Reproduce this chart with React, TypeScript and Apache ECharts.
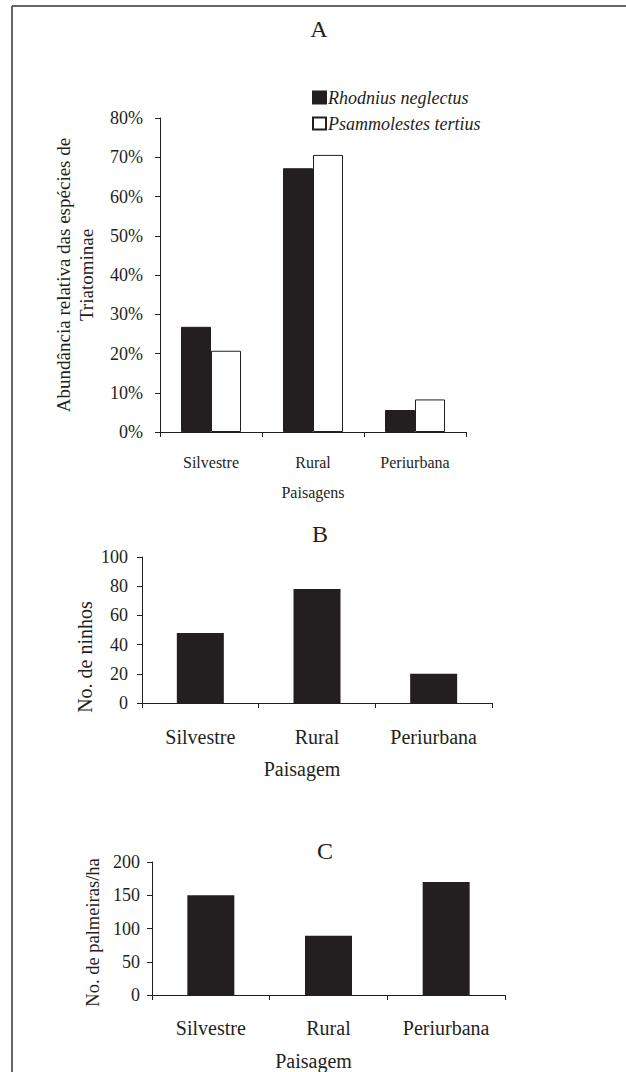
import React, { useEffect, useRef } from "react";
import * as echarts from "echarts";

const paisagens = ["Silvestre", "Rural", "Periurbana"];
const rhodnius = [26.8, 67.2, 5.6];
const psammolestes = [20.7, 70.6, 8.3];
const ninhos = [48, 78, 20];
const palmeiras = [150, 89, 170];
const panelTitles = ["A", "B", "C"];

const INK = "#231f20";
const FONT = "Liberation Serif";

function yAxisBase(gridIndex: number, max: number, interval: number, name: string, nameGap: number, fontSize: number, labelMargin: number, extra: any = {}) {
  return {
    type: "value",
    gridIndex,
    min: 0,
    max,
    interval,
    name,
    nameLocation: "middle",
    nameGap,
    nameRotate: 90,
    nameMoveOverlap: false,
    nameTextStyle: { color: INK, fontFamily: FONT, fontSize: 17, lineHeight: 22, ...(extra.nameTextStyle || {}) },
    axisLine: { show: true, lineStyle: { color: INK, width: 1 } },
    axisTick: { show: true, length: 5, lineStyle: { color: INK } },
    axisLabel: { color: INK, fontFamily: FONT, fontSize, margin: labelMargin, ...(extra.axisLabel || {}) },
    splitLine: { show: false },
  };
}

function xAxisBase(gridIndex: number, name: string, nameGap: number, fontSize: number, labelMargin: number, namePadding: number[]) {
  return {
    type: "category",
    gridIndex,
    data: paisagens,
    name,
    nameLocation: "middle",
    nameGap,
    nameMoveOverlap: false,
    nameTextStyle: { color: INK, fontFamily: FONT, fontSize: fontSize, padding: namePadding },
    axisLine: { show: true, lineStyle: { color: INK, width: 1 } },
    axisTick: { show: true, length: 5, lineStyle: { color: INK } },
    axisLabel: { color: INK, fontFamily: FONT, fontSize, margin: labelMargin },
    splitLine: { show: false },
  };
}

export default function App() {
  const ref = useRef<HTMLDivElement>(null);
  useEffect(() => {
    if (!ref.current) return;
    const chart = echarts.init(ref.current, undefined, { renderer: "svg" });
    const titleStyle = { color: INK, fontFamily: FONT, fontSize: 24, fontWeight: "normal" };
    const option: any = {
      animation: false,
      backgroundColor: "#ffffff",
      title: [
        { text: panelTitles[0], left: 314, top: 12, textAlign: "center", textStyle: titleStyle },
        { text: panelTitles[1], left: 315, top: 517, textAlign: "center", textStyle: titleStyle },
        { text: panelTitles[2], left: 320, top: 834, textAlign: "center", textStyle: titleStyle },
      ],
      legend: {
        left: 307,
        top: 82,
        orient: "vertical",
        icon: "rect",
        itemWidth: 13,
        itemHeight: 12,
        itemGap: 5,
        data: ["Rhodnius neglectus", "Psammolestes tertius"],
        textStyle: { color: INK, fontFamily: FONT, fontSize: 18, fontStyle: "italic", lineHeight: 21, padding: [0, 0, 0, -3] },
      },
      grid: [
        { left: 160, top: 118, width: 306, height: 314 },
        { left: 142, top: 557, width: 350, height: 146 },
        { left: 152, top: 862, width: 353, height: 136 },
      ],
      xAxis: [
        xAxisBase(0, "Paisagens", 52, 16, 22, [0, 0, 0, 0]),
        xAxisBase(1, "Paisagem", 56, 20, 24, [0, 30, 0, 0]),
        xAxisBase(2, "Paisagem", 56, 20, 23, [0, 30, 0, 0]),
      ],
      yAxis: [
        { ...yAxisBase(0, 80, 10, "Abundância relativa das espécies de\nTriatominae", 62, 18, 17, { nameTextStyle: { fontSize: 19, lineHeight: 23 } }), axisLabel: { color: INK, fontFamily: FONT, fontSize: 18, margin: 17, formatter: "{value}%" } },
        yAxisBase(1, 100, 20, "No. de ninhos", 46, 18, 14, { nameTextStyle: { fontSize: 20, padding: [0, 54, 0, 0] } }),
        yAxisBase(2, 200, 50, "No. de palmeiras/ha", 48, 18, 12, { nameTextStyle: { fontSize: 18.5, padding: [0, 8, 0, 0] } }),
      ],
      series: [
        {
          name: "Rhodnius neglectus",
          type: "bar",
          xAxisIndex: 0,
          yAxisIndex: 0,
          data: rhodnius,
          barWidth: 30,
          barGap: "0%",
          itemStyle: { color: INK, borderColor: INK, borderWidth: 1 },
        },
        {
          name: "Psammolestes tertius",
          type: "bar",
          xAxisIndex: 0,
          yAxisIndex: 0,
          data: psammolestes,
          barWidth: 30,
          barGap: "0%",
          itemStyle: { color: "#ffffff", borderColor: INK, borderWidth: 1 },
        },
        {
          name: "Ninhos",
          type: "bar",
          xAxisIndex: 1,
          yAxisIndex: 1,
          data: ninhos,
          barWidth: 47,
          itemStyle: { color: INK },
        },
        {
          name: "Palmeiras",
          type: "bar",
          xAxisIndex: 2,
          yAxisIndex: 2,
          data: palmeiras,
          barWidth: 47,
          itemStyle: { color: INK },
        },
      ],
      graphic: [
        { type: "line", shape: { x1: 12, y1: 6, x2: 626, y2: 6 }, style: { stroke: "#333333", lineWidth: 1.5 } },
        { type: "line", shape: { x1: 12, y1: 6, x2: 12, y2: 1072 }, style: { stroke: "#333333", lineWidth: 1.5 } },
      ],
    };
    chart.setOption(option);
    return () => chart.dispose();
  }, []);
  return (
    <div
      ref={ref}
      style={{ position: "absolute", left: 0, top: 0, width: 626, height: 1072, background: "#fff" }}
    />
  );
}
